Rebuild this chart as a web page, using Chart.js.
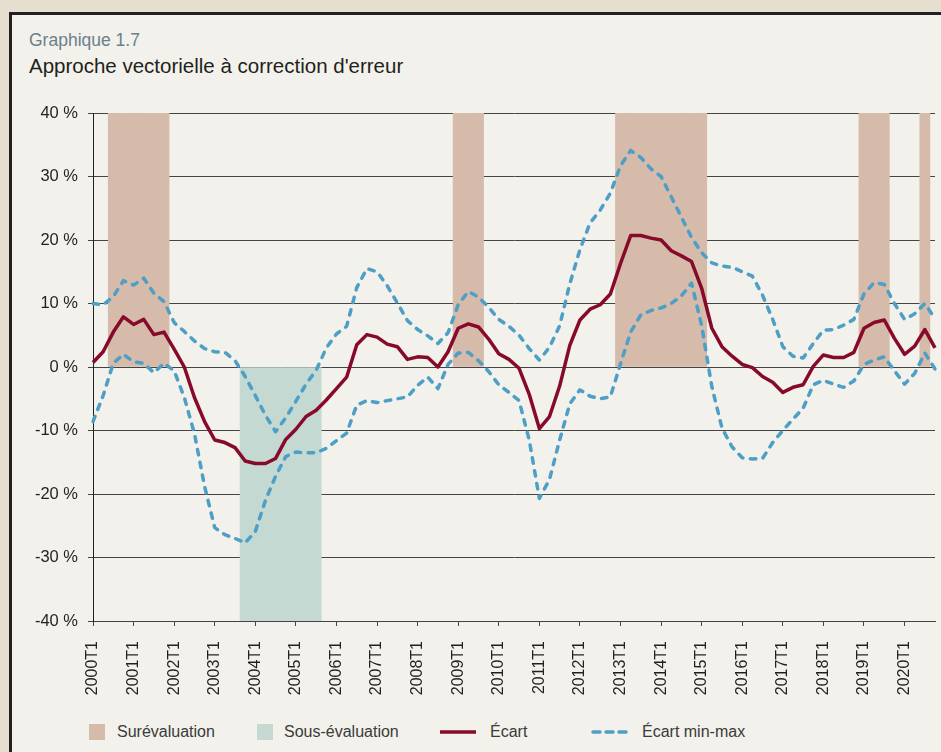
<!DOCTYPE html>
<html lang="fr">
<head>
<meta charset="utf-8">
<title>Graphique 1.7</title>
<script src="https://cdn.jsdelivr.net/npm/chart.js@4.4.1/dist/chart.umd.min.js"></script>
<style>
  html, body { margin: 0; padding: 0; }
  body {
    width: 941px; height: 752px; overflow: hidden; position: relative;
    background: #e6dfcf;
    font-family: "Liberation Sans", Arial, sans-serif;
    color: #231f20;
  }
  .panel {
    position: absolute; left: 9px; top: 12px; width: 1000px; height: 800px;
    border: 3px solid #231f20; background: #f2f1eb;
  }
  .kicker { position: absolute; left: 29px; top: 32px; font-size: 17.5px; line-height: 17.5px; color: #6b7f8c; }
  .title { position: absolute; left: 29px; top: 56px; font-size: 20.5px; line-height: 20.5px; color: #231f20; }
  #wrap { position: absolute; left: 0; top: 0; width: 941px; height: 705px; }
  .leg { position: absolute; top: 724px; height: 16px; font-size: 16px; line-height: 16px; color: #3a3a3a; white-space: nowrap; }
  .swatch { position: absolute; top: 724px; width: 16px; height: 16px; }
  .legline { position: absolute; top: 728px; }
</style>
</head>
<body>
<div class="panel"></div>
<div class="kicker">Graphique 1.7</div>
<div class="title">Approche vectorielle à correction d'erreur</div>
<div id="wrap"><canvas id="chart" width="941" height="705"></canvas></div>

<div class="swatch" style="left:89px;background:#d6bbab"></div>
<div class="leg" style="left:117px">Surévaluation</div>
<div class="swatch" style="left:257px;background:#c5d9d3"></div>
<div class="leg" style="left:284px">Sous-évaluation</div>
<svg class="legline" style="left:440px" width="36" height="8"><line x1="0" y1="4" x2="36" y2="4" stroke="#870a2a" stroke-width="3.5"/></svg>
<div class="leg" style="left:490px">Écart</div>
<svg class="legline" style="left:591px" width="38" height="8"><line x1="2" y1="4" x2="37" y2="4" stroke="#4d9fc5" stroke-width="3.5" stroke-linecap="round" stroke-dasharray="7 6"/></svg>
<div class="leg" style="left:642px">Écart min-max</div>

<script>
// quarters 2000T1 .. 2020T4
const quarters = [];
for (let y = 2000; y <= 2020; y++) {
  for (let q = 1; q <= 4; q++) quarters.push(y + 'T' + q);
}

// écart central (%)
const ecart = [
  0.7, 2.4, 5.5, 7.9, 6.7, 7.5, 5.1, 5.5, 2.8, 0.0,
  -4.8, -8.6, -11.5, -11.9, -12.7, -14.8, -15.2, -15.2, -14.4, -11.4,
  -9.8, -7.8, -6.8, -5.2, -3.4, -1.6, 3.5, 5.1, 4.7, 3.6,
  3.2, 1.2, 1.6, 1.5, 0.0, 2.4, 6.1, 6.8, 6.3, 4.4,
  2.1, 1.2, -0.2, -4.3, -9.7, -7.8, -3.0, 3.4, 7.4, 9.1,
  9.8, 11.5, 16.3, 20.7, 20.7, 20.3, 20.0, 18.3, 17.5, 16.6,
  12.4, 6.1, 3.2, 1.7, 0.4, -0.1, -1.5, -2.4, -4.0, -3.2,
  -2.8, 0.1, 1.9, 1.5, 1.5, 2.3, 6.1, 7.0, 7.4, 4.5,
  2.0, 3.3, 5.9, 3.0
];

// bornes de l'écart min-max (%)
const ecartMax = [
  10.0, 9.8, 11.1, 13.6, 12.9, 14.0, 11.6, 10.3, 7.0, 5.6,
  4.1, 2.9, 2.4, 2.3, 1.0, -1.5, -4.5, -7.6, -10.2, -8.0,
  -5.4, -2.7, -0.5, 3.0, 5.2, 6.4, 12.5, 15.5, 15.0, 12.8,
  10.1, 7.3, 5.9, 4.9, 3.7, 5.4, 9.8, 11.9, 11.0, 9.4,
  7.5, 6.4, 5.0, 2.9, 1.1, 3.1, 6.5, 13.1, 18.5, 22.7,
  24.7, 27.4, 31.7, 34.1, 33.0, 31.2, 30.0, 26.8, 23.6, 20.4,
  18.0, 16.4, 15.9, 15.7, 15.0, 14.3, 11.3, 7.5, 3.2, 1.7,
  1.4, 3.7, 5.8, 5.9, 6.6, 7.5, 11.5, 13.3, 13.0, 10.0,
  7.5, 8.4, 10.0, 7.6
];
const ecartMin = [
  -8.6, -4.5, 0.6, 2.0, 0.8, 0.6, -0.9, 0.6, -0.6, -4.8,
  -10.5, -18.8, -25.3, -26.4, -27.0, -27.7, -25.9, -21.0, -17.2, -14.1,
  -13.4, -13.5, -13.5, -12.8, -11.6, -10.4, -6.0, -5.3, -5.6, -5.3,
  -5.0, -4.7, -2.9, -1.6, -3.4, 0.4, 2.2, 2.3, 1.0, -0.7,
  -2.8, -4.0, -5.3, -11.5, -20.7, -17.7, -11.5, -5.8, -3.6, -4.6,
  -5.0, -4.7, 0.5, 5.5, 8.2, 8.9, 9.3, 10.0, 11.2, 13.2,
  6.5, -3.1, -9.6, -12.6, -14.3, -14.5, -14.4, -11.9, -10.0, -8.2,
  -6.5, -2.8, -2.1, -2.7, -3.2, -2.2, 0.4, 1.1, 1.6, -0.6,
  -2.7, -1.0, 2.2, -0.3
];

// périodes de sur- et sous-évaluation
const surPeriods = [['2000T3', '2001T4'], ['2009T1', '2009T3'], ['2013T1', '2015T1'], ['2019T1', '2019T3'], ['2020T3', '2020T3']];
const sousPeriods = [['2003T4', '2005T3']];

const yTicks = [-40, -30, -20, -10, 0, 10, 20, 30, 40];

function band(periods, value) {
  const out = quarters.map(() => null);
  periods.forEach(([a, b]) => {
    for (let i = quarters.indexOf(a); i <= quarters.indexOf(b); i++) out[i] = value;
  });
  return out;
}

const font = { family: '"Liberation Sans", Arial, sans-serif', size: 16 };
const gridColor = '#444';

new Chart(document.getElementById('chart'), {
  type: 'line',
  data: {
    labels: quarters,
    datasets: [
      {
        label: 'Écart', data: ecart, order: 0,
        borderColor: '#870a2a', borderWidth: 3.5, pointRadius: 0,
        borderJoinStyle: 'round', tension: 0
      },
      {
        label: 'Écart min-max', data: ecartMax, order: 1,
        borderColor: '#4d9fc5', borderWidth: 3.5, pointRadius: 0,
        borderDash: [5.5, 7.5], borderCapStyle: 'round', borderJoinStyle: 'round', tension: 0
      },
      {
        label: 'Écart min-max (bas)', data: ecartMin, order: 1,
        borderColor: '#4d9fc5', borderWidth: 3.5, pointRadius: 0,
        borderDash: [5.5, 7.5], borderCapStyle: 'round', borderJoinStyle: 'round', tension: 0
      },
      {
        type: 'bar', label: 'Surévaluation', data: band(surPeriods, 40), order: 2,
        backgroundColor: '#d6bbab', borderWidth: 0, grouped: false,
        barPercentage: 1, categoryPercentage: 1
      },
      {
        type: 'bar', label: 'Sous-évaluation', data: band(sousPeriods, -40), order: 2,
        backgroundColor: '#c5d9d3', borderWidth: 0, grouped: false,
        barPercentage: 1, categoryPercentage: 1
      }
    ]
  },
  options: {
    responsive: false,
    devicePixelRatio: 1,
    animation: false,
    layout: { padding: { top: 113, right: 6, left: 0, bottom: 0 } },
    plugins: { legend: { display: false }, tooltip: { enabled: false } },
    scales: {
      x: {
        type: 'category',
        offset: false,
        afterFit: s => { s.height = 84; s.paddingLeft = 0; s.paddingRight = 0; },
        border: { color: gridColor, width: 1 },
        grid: {
          offset: false, drawOnChartArea: false, drawTicks: true, tickLength: 5,
          color: c => (c.index % 4 === 0 ? gridColor : 'rgba(0,0,0,0)')
        },
        ticks: {
          autoSkip: false, minRotation: 90, maxRotation: 90, padding: 15,
          color: '#231f20', font,
          callback: (v, i) => (i % 4 === 0 ? quarters[i] : '')
        }
      },
      y: {
        min: -40, max: 40,
        afterFit: s => { s.width = 93; s.paddingTop = 0; s.paddingBottom = 0; },
        afterBuildTicks: s => { s.ticks = yTicks.map(v => ({ value: v })); },
        border: { color: '#231f20', width: 1 },
        grid: { color: gridColor, lineWidth: 1, tickLength: 5 },
        ticks: {
          padding: 10, color: '#231f20', font: { family: font.family, size: 16.5 },
          callback: v => v + ' %'
        }
      }
    }
  }
});
</script>
</body>
</html>
